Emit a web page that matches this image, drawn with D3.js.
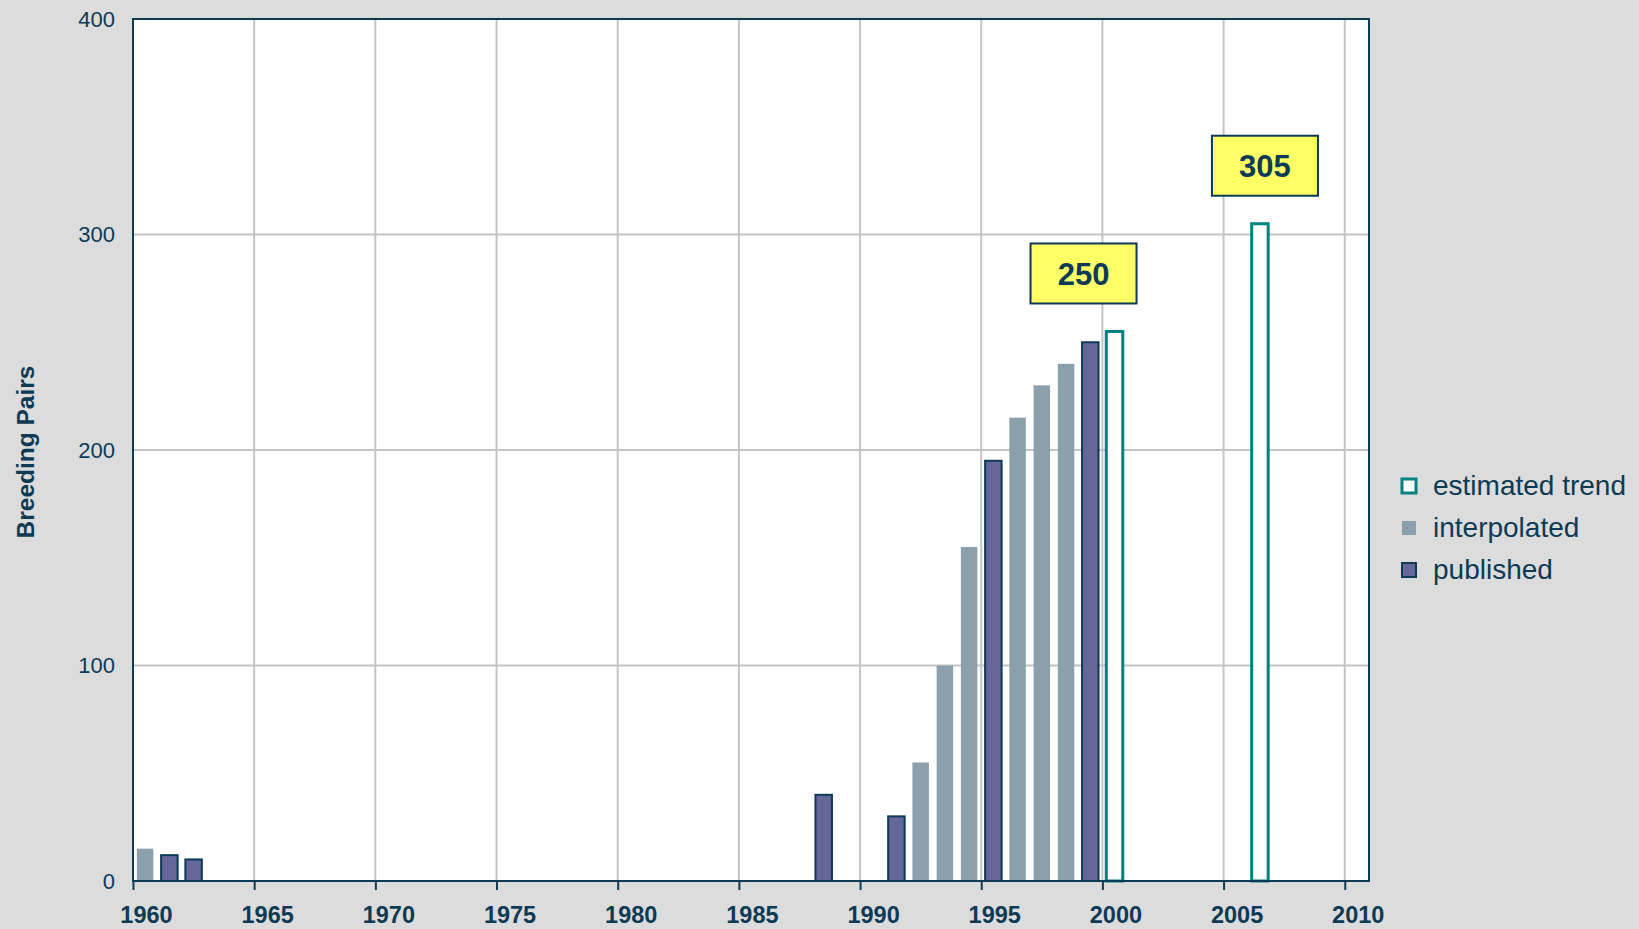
<!DOCTYPE html>
<html>
<head>
<meta charset="utf-8">
<script src="https://cdn.jsdelivr.net/npm/d3@7"></script>
<style>
  body { margin: 0; background: #dcdcdc; }
  svg { display: block; font-family: "Liberation Sans", Arial, sans-serif; }
</style>
</head>
<body>
<script>
// data
var publishedYears = [1961, 1962, 1988, 1991, 1995, 1999];
var publishedValues = [12, 10, 40, 30, 195, 250];
var interpolatedYears = [1960, 1992, 1993, 1994, 1996, 1997, 1998];
var interpolatedValues = [15, 55, 100, 155, 215, 230, 240];
var estimatedYears = [2000, 2006];
var estimatedValues = [255, 305];
var calloutLabels = ["250", "305"];
var xTicks = [1960, 1965, 1970, 1975, 1980, 1985, 1990, 1995, 2000, 2005, 2010];
var yTicks = [0, 100, 200, 300, 400];
var legendLabels = ["estimated trend", "interpolated", "published"];

var width = 1639, height = 929;
var margin = {left: 133, top: 19, right: 270, bottom: 48};
var ink = "#0d3a55";

var svg = d3.select("body").append("svg")
    .attr("width", width)
    .attr("height", height);

var xScale = d3.scaleLinear().domain([1960, 2011]).range([margin.left, width - margin.right]),
    yScale = d3.scaleLinear().domain([0, 400]).range([height - margin.bottom, margin.top]);

// plot background
svg.append("rect")
    .attr("x", xScale(1960)).attr("y", yScale(400))
    .attr("width", xScale(2011) - xScale(1960))
    .attr("height", yScale(0) - yScale(400))
    .attr("fill", "#fff");

// grid
svg.append("g").selectAll("line")
    .data(xTicks.slice(1))
    .enter().append("line")
    .attr("x1", function(d) { return xScale(d); })
    .attr("x2", function(d) { return xScale(d); })
    .attr("y1", yScale(400)).attr("y2", yScale(0))
    .attr("stroke", "#c4c4c4").attr("stroke-width", 2);

svg.append("g").selectAll("line")
    .data(yTicks.slice(1, -1))
    .enter().append("line")
    .attr("x1", xScale(1960)).attr("x2", xScale(2011))
    .attr("y1", function(d) { return yScale(d); })
    .attr("y2", function(d) { return yScale(d); })
    .attr("stroke", "#c4c4c4").attr("stroke-width", 2);

function bars(years, values, cls, fill, stroke, sw) {
    svg.append("g").selectAll("." + cls)
        .data(years.map(function(y, i) { return {year: y, value: values[i]}; }))
        .enter().append("rect")
        .attr("class", cls)
        .attr("x", function(d) { return xScale(d.year + 0.16); })
        .attr("y", function(d) { return yScale(d.value); })
        .attr("width", function(d) { return xScale(d.year + 0.84) - xScale(d.year + 0.16); })
        .attr("height", function(d) { return yScale(0) - yScale(d.value); })
        .attr("fill", fill)
        .attr("stroke", stroke)
        .attr("stroke-width", sw);
}

bars(interpolatedYears, interpolatedValues, "interp", "#8ba0aa", "none", 0);
bars(publishedYears, publishedValues, "pub", "#666699", "#0d3a55", 2);
bars(estimatedYears, estimatedValues, "est", "#fff", "#008080", 3);

// axes frame
svg.append("rect")
    .attr("x", xScale(1960)).attr("y", yScale(400))
    .attr("width", xScale(2011) - xScale(1960))
    .attr("height", yScale(0) - yScale(400))
    .attr("fill", "none").attr("stroke", ink).attr("stroke-width", 2);

var xAxis = svg.append("g")
    .attr("transform", "translate(0," + yScale(0) + ")")
    .call(d3.axisBottom(xScale).tickValues(xTicks).tickFormat(d3.format("d")).tickSize(9).tickPadding(16));
xAxis.select(".domain").remove();
xAxis.selectAll("line").attr("stroke", ink).attr("stroke-width", 2);
xAxis.selectAll("text")
    .attr("dx", 13)
    .attr("fill", ink)
    .attr("font-size", 23.5)
    .attr("font-weight", "bold")
    .attr("font-family", "Liberation Sans, Arial, sans-serif");

var yAxis = svg.append("g")
    .attr("transform", "translate(" + xScale(1960) + ",0)")
    .call(d3.axisLeft(yScale).tickValues(yTicks).tickSize(0).tickPadding(18));
yAxis.select(".domain").remove();
yAxis.selectAll("text")
    .attr("fill", ink)
    .attr("font-size", 22)
    .attr("font-family", "Liberation Sans, Arial, sans-serif");

svg.append("text")
    .attr("transform", "translate(34," + (yScale(200) + 2) + ") rotate(-90)")
    .attr("text-anchor", "middle")
    .attr("fill", ink)
    .attr("font-size", 24.5)
    .attr("font-weight", "bold")
    .text("Breeding Pairs");

// callouts above the estimated bars
var calloutDx = [-31, 5];
var callouts = svg.append("g").selectAll("g")
    .data(estimatedYears.map(function(y, i) { return {year: y, value: estimatedValues[i], label: calloutLabels[i], dx: calloutDx[i]}; }))
    .enter().append("g")
    .attr("transform", function(d) {
        return "translate(" + (xScale(d.year + 0.5) + d.dx) + "," + (yScale(d.value) - 58) + ")";
    });
callouts.append("rect")
    .attr("x", -53).attr("y", -30)
    .attr("width", 106).attr("height", 60)
    .attr("fill", "#ffff66").attr("stroke", ink).attr("stroke-width", 2);
callouts.append("text")
    .attr("text-anchor", "middle")
    .attr("dy", "0.36em")
    .attr("fill", ink)
    .attr("font-size", 31)
    .attr("font-weight", "bold")
    .text(function(d) { return d.label; });

// legend
var legendStyle = [
    {fill: "#fff", stroke: "#008080", sw: 3},
    {fill: "#8ba0aa", stroke: "none", sw: 0},
    {fill: "#666699", stroke: ink, sw: 2}
];
var legend = svg.append("g").selectAll("g")
    .data(legendLabels)
    .enter().append("g")
    .attr("transform", function(d, i) { return "translate(1401," + (478 + i * 42) + ")"; });
legend.append("rect")
    .attr("x", 1).attr("y", 1).attr("width", 14).attr("height", 14)
    .attr("fill", function(d, i) { return legendStyle[i].fill; })
    .attr("stroke", function(d, i) { return legendStyle[i].stroke; })
    .attr("stroke-width", function(d, i) { return legendStyle[i].sw; });
legend.append("text")
    .attr("x", 32).attr("y", 7).attr("dy", "0.35em")
    .attr("fill", ink)
    .attr("font-size", 28)
    .text(function(d) { return d; });
</script>
</body>
</html>
